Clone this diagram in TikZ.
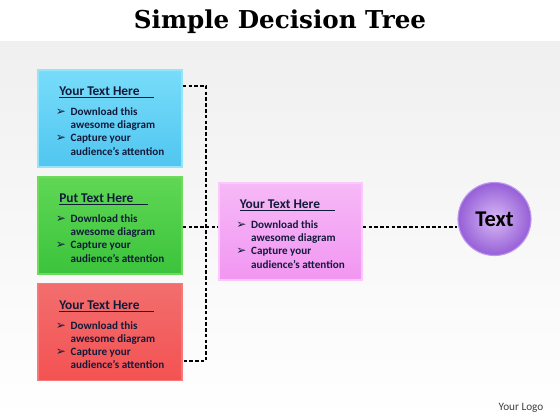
\documentclass[tikz,border=0pt]{standalone}
\usepackage{fontspec}
\setmainfont{Carlito}
\newfontfamily\titlefont{DejaVu Serif}
\newfontfamily\symfont{DejaVu Sans}
\usetikzlibrary{positioning}

\definecolor{navy}{RGB}{18,26,58}
\definecolor{bluetop}{RGB}{120,220,250}
\definecolor{bluebot}{RGB}{80,198,240}
\definecolor{blueline}{RGB}{150,228,250}
\definecolor{greentop}{RGB}{95,215,85}
\definecolor{greenbot}{RGB}{60,195,60}
\definecolor{greenline}{RGB}{110,220,90}
\definecolor{redtop}{RGB}{242,110,110}
\definecolor{redbot}{RGB}{244,82,82}
\definecolor{redline}{RGB}{246,120,120}
\definecolor{pinktop}{RGB}{246,185,246}
\definecolor{pinkbot}{RGB}{242,150,242}
\definecolor{pinkline}{RGB}{250,200,250}
\definecolor{ballin}{RGB}{215,185,245}
\definecolor{ballout}{RGB}{150,95,215}
\definecolor{ballline}{RGB}{190,150,240}

\newcommand{\bul}{{\symfont\fontsize{8.5}{8.5}\selectfont ➢}}
\newcommand{\boxtext}[1]{%
\begin{tabular}{@{}l@{\hspace{3.5pt}}l@{}}
\noalign{\vspace{6pt}}
\multicolumn{2}{@{}l@{}}{\hspace{2.5pt}\fontsize{9.5}{11}\selectfont\underline{#1\hspace{1.1em}}}\\[5pt]
\bul & Download this\\
 & awesome diagram\\
\bul & Capture your\\
 & audience’s attention
\end{tabular}}

\begin{document}
\begin{tikzpicture}[x=0.025cm, y=-0.025cm,
  box/.style={draw, line width=1.2pt, minimum width=3.6cm, minimum height=2.425cm,
    inner sep=0pt, font=\fontsize{7.9}{9.3}\selectfont\bfseries, text=navy},
  link/.style={draw=black, line width=0.9pt, dash pattern=on 2.5pt off 1.6pt}]
\useasboundingbox (0,0) rectangle (560,420);
\fill[white] (0,0) rectangle (560,42);
\shade[top color=black!6, bottom color=white] (0,42) rectangle (560,420);

\node[font=\titlefont\bfseries\fontsize{17.5}{21}\selectfont] (title) at (280,22) {Simple Decision Tree};

% left column
\node[box, draw=blueline, top color=bluetop, bottom color=bluebot] (blue) at (110,118.5) {\boxtext{Your Text Here}};
\node[box, draw=greenline, top color=greentop, bottom color=greenbot] (green) at (110,225.5) {\boxtext{Put Text Here}};
\node[box, draw=redline, top color=redtop, bottom color=redbot] (red) at (110,332) {\boxtext{Your Text Here}};

% middle and end
\node[box, minimum width=3.575cm, draw=pinkline, top color=pinktop, bottom color=pinkbot] (pink) at (290.5,231.5) {\boxtext{Your Text Here}};
\node[circle, minimum size=1.825cm, inner sep=0pt, draw=ballline, line width=0.8pt,
  inner color=ballin, outer color=ballout, text=black,
  font=\bfseries\fontsize{16}{16}\selectfont] (ball) at (494.5,219) {Text};

\coordinate (jtop) at (206,86);
\coordinate (jbot) at (206,361);
\coordinate (jmid) at (206,227);
\draw[link] (blue.east |- jtop) -- (jtop) -- (jbot) -- (red.east |- jbot);
\draw[link] (green.east |- jmid) -- (pink.west |- jmid);
\draw[link] (pink.east |- jmid) -- (ball.west |- jmid);

\node[font=\fontsize{8}{9}\selectfont, text=black!75] (logo) at (521,408) {Your Logo};
\end{tikzpicture}
\end{document}
